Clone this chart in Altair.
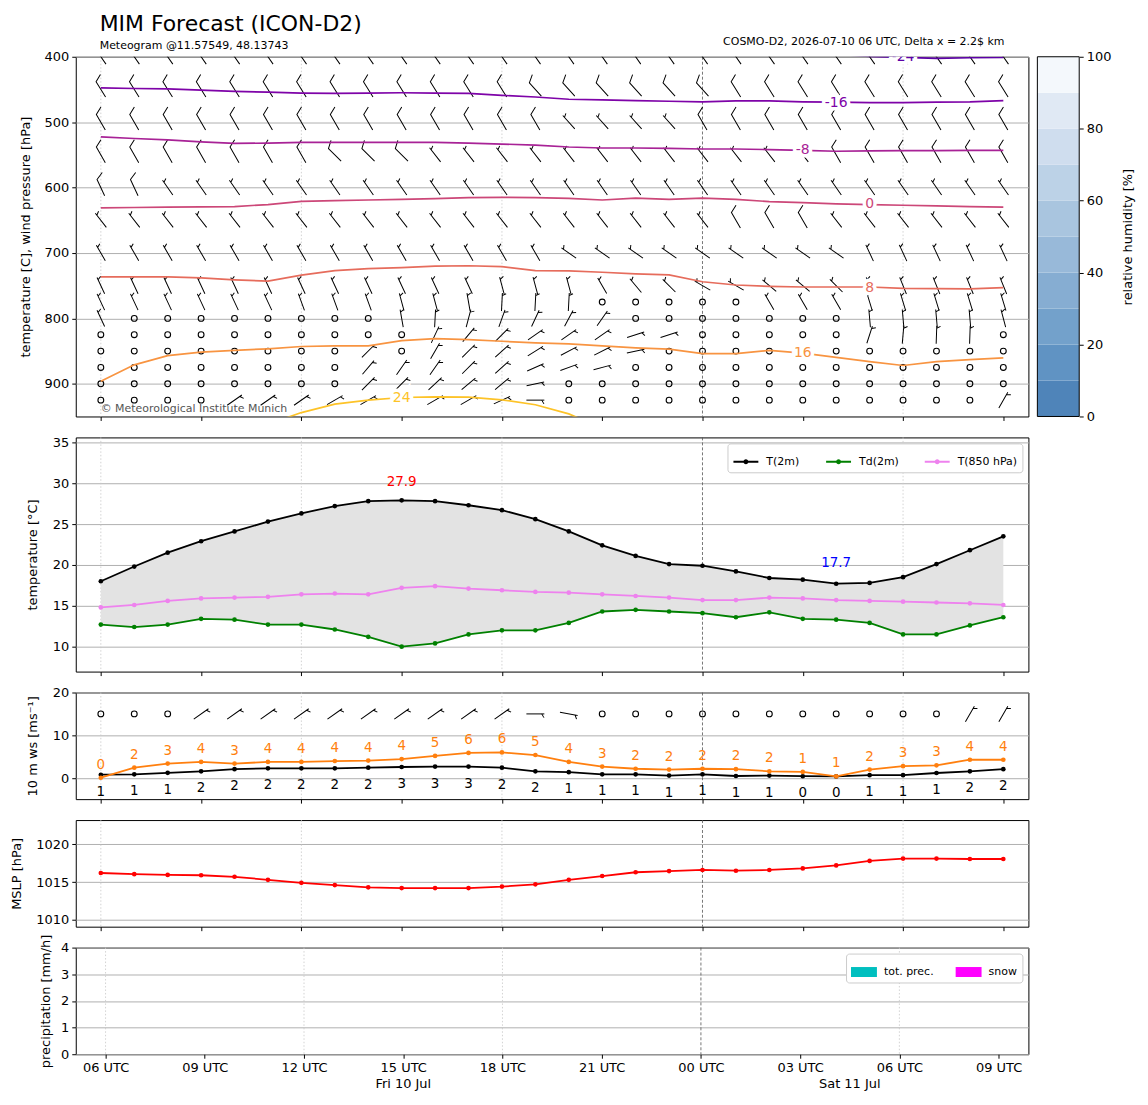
import altair as alt
import pandas as pd

FONT = "DejaVu Sans"

# ---------------- time axis ----------------
HOURS = list(range(28))
TICK_HOURS = [0, 3, 6, 9, 12, 15, 18, 21, 24, 27]
TICK_LABELS = ["06 UTC", "09 UTC", "12 UTC", "15 UTC", "18 UTC", "21 UTC",
               "00 UTC", "03 UTC", "06 UTC", "09 UTC"]
DAY_LABELS = ["Fri 10 Jul", "Sat 11 Jul"]
DAY_HOURS = [9, 22.5]
GRID_HOURS = [0, 6, 12, 24]
MIDNIGHT_HOURS = [18]

# ---------------- panel 1: upper air ----------------
LEVELS = [400, 450, 500, 550, 600, 650, 700, 750, 775, 800, 825, 850, 875, 900, 925]
BARB_CODES = [
    "FFFFFFF FFFFFFF FFFFFFF FFFFFFF",
    "FFFFFFF FFFFFFF FFFFFFF FFFFFFF",
    "FFFFFFF FFFFFFF HHHHFFF FFFFFFF",
    "FFFFFFF FFFHHHH HHHHHHH HFFFFFF",
    "FFHHHHH HHHHHHH HHHHHHH HHHHHHH",
    "HHHHHHH HHHHHHH HHHHHFF FHHHHHH",
    "HHHHHHH HHHHHHH HHHHHHH HHHHHHH",
    "HHHHHHH HHHHHHH HHHHHHH HHHHHHH",
    "HHHHHHH HHHHHHH HCCCCCH HHHHHHH",
    "HCCCCCC CCHHHHH HHCCCCC CCHHHHH",
    "CCCCCCC CCCHHHH HHHHCCC CCHHHHC",
    "CCCCCCC CHCHHHH HHHCCCC CCCCCCC",
    "CCCCCCC CHHHHHH HHCCCCC CCCCCCC",
    "CCCCCCC CHHHHHH CCCCCCC CCCCCCC",
    "CCCCHHH HHHHHHH CCCCCCC CCCCCCH",
]
BARB_ANGLES = [
    [325] * 7 + [325] * 7 + [325] * 7 + [325] * 7,
    [328] * 7 + [328, 328, 328, 328, 328, 328, 318] + [318, 318, 318, 318, 318, 328, 328] + [328] * 7,
    [330] * 7 + [330] * 7 + [318, 318, 318, 318, 330, 330, 330] + [330] * 7,
    [330] * 7 + [315, 315, 315, 322, 322, 322, 322] + [322] * 7 + [322, 330, 330, 330, 330, 330, 330],
    [335, 335, 325, 325, 325, 325, 325] + [325] * 7 + [325] * 7 + [325] * 7,
    [322] * 7 + [322] * 7 + [322, 322, 322, 322, 322, 330, 330] + [330, 322, 322, 322, 322, 322, 322],
    [330] * 7 + [330] * 7 + [305] * 7 + [305, 305, 335, 335, 335, 335, 335],
    [335] * 7 + [335, 335, 335, 335, 335, 345, 345] + [345, 330, 320, 315, 300, 300, 310] + [310, 315, 338, 338, 338, 338, 338],
    [335, 335, 335, 335, 335, 335, 340] + [340, 340, 345, 345, 350, 3, 3] + [3, 0, 0, 0, 0, 0, 330] + [330, 330, 343, 343, 343, 343, 343],
    [335, 0, 0, 0, 0, 0, 0] + [0, 0, 350, 3, 15, 20, 25] + [28, 35, 0, 0, 0, 0, 0] + [0, 0, 355, 355, 355, 355, 345],
    [0] * 7 + [0, 0, 0, 25, 40, 45, 55] + [55, 55, 72, 72, 0, 0, 0] + [0, 0, 18, 5, 2, 2, 0],
    [0] * 7 + [0, 45, 0, 30, 45, 48, 58] + [62, 63, 78, 0, 0, 0, 0] + [0] * 7,
    [0] * 7 + [0, 40, 35, 35, 45, 48, 66] + [70, 75, 0, 0, 0, 0, 0] + [0] * 7,
    [0] * 7 + [0, 45, 45, 47, 50, 50, 78] + [0] * 7 + [0] * 7,
    [0, 0, 0, 0, 55, 55, 55] + [60, 60, 60, 60, 60, 65, 90] + [0] * 7 + [0, 0, 0, 0, 0, 0, 30],
]

ISO_LEVELS = ["-24", "-16", "-8", "0", "8", "16", "24"]
ISO_COLORS = ["#5c01a6", "#7e03a8", "#a82296", "#cc4778", "#e66c5c", "#f89441", "#fdc328"]
ISO_P = [
    [None, None, None, None, None, None, None, None, None, None, None, None, None, None,
     None, None, None, None, None, None, None, None, 396, 399.5, 401, 402.5, 401.5, 401],
    [447.5, 448.5, 449, 451, 453, 454, 455.5, 456, 455.5, 455, 455.5, 456, 459, 461.5,
     465, 466, 467, 468, 469, 467.5, 467.5, 469, 469.5, 470, 470, 469.5, 469, 467],
    [522.5, 525, 527, 530, 532.5, 532, 531, 531, 531, 531, 531, 532, 533.5, 535,
     538, 539.5, 539.5, 540, 541, 541, 542, 543, 544.5, 544, 543.5, 543.5, 543, 543],
    [631, 630.5, 630, 629.5, 629, 626, 621, 620, 619, 618, 617, 615.5, 615, 615.5,
     616.5, 619, 616, 618, 616, 618, 621.5, 623, 625, 626, 627, 628, 629, 630],
    [736.5, 736.5, 736.5, 738, 741, 743, 734, 727, 724, 722.5, 720, 719.5, 721, 727,
     727.5, 729.5, 732, 733.5, 744, 749, 751, 752, 752, 752, 754, 754.5, 755, 753],
    [896, 871, 857, 851.5, 849, 846.5, 843, 842, 842, 834, 831, 832.5, 835, 837.5,
     839, 842, 845, 847, 854, 854, 849, 853, 859.5, 866, 872, 866, 863, 860.5],
    [None, None, None, None, None, 962, 944, 931, 925, 921, 920, 920.5, 924.5, 932,
     946, 968, None, None, None, None, None, None, None, None, None, None, None, None],
]
ISO_LABEL_HOURS = [24, 22, 21, 23, 23, 21, 9]
ISO_LABEL_P = [400, 470, 543, 625, 753, 853, 921]

RH_BOUNDS = [0, 10, 20, 30, 40, 50, 60, 70, 80, 90, 100]
RH_COLORS = ["#4f84b9", "#6093c3", "#73a1cb", "#86add2", "#98b9d9",
             "#a9c5df", "#bcd2e7", "#cfddee", "#e0e9f4", "#f4f8fc"]

# ---------------- panel 2: temperatures ----------------
T2M = [18.0, 19.8, 21.5, 22.9, 24.1, 25.3, 26.3, 27.2, 27.8, 27.9, 27.8, 27.3, 26.7, 25.6,
       24.1, 22.4, 21.1, 20.1, 19.9, 19.2, 18.4, 18.2, 17.7, 17.8, 18.5, 20.1, 21.8, 23.5]
TD2M = [12.7, 12.4, 12.7, 13.4, 13.3, 12.7, 12.7, 12.1, 11.2, 10.0, 10.4, 11.5, 12.0, 12.0,
        12.9, 14.3, 14.5, 14.3, 14.1, 13.6, 14.2, 13.4, 13.3, 12.9, 11.5, 11.5, 12.6, 13.6]
T850 = [14.8, 15.1, 15.6, 15.9, 16.0, 16.1, 16.4, 16.5, 16.4, 17.2, 17.4, 17.1, 16.9, 16.7,
        16.6, 16.4, 16.2, 16.0, 15.7, 15.7, 16.0, 15.9, 15.7, 15.6, 15.5, 15.4, 15.3, 15.1]
T_SERIES = ["T(2m)", "Td(2m)", "T(850 hPa)"]
T_COLORS = ["black", "green", "violet"]

# ---------------- panel 3: 10 m wind ----------------
WS10 = [0.8, 0.9, 1.25, 1.6, 2.1, 2.3, 2.3, 2.3, 2.45, 2.6, 2.7, 2.7, 2.45, 1.6,
        1.4, 0.9, 0.9, 0.6, 0.9, 0.5, 0.6, 0.45, 0.4, 0.7, 0.7, 1.2, 1.6, 2.1]
GUST10 = [0.1, 2.45, 3.4, 3.8, 3.4, 3.8, 3.8, 4.0, 4.1, 4.45, 5.2, 5.9, 6.0, 5.4,
          3.8, 2.7, 2.2, 2.0, 2.2, 2.1, 1.6, 1.45, 0.4, 2.0, 2.8, 3.0, 4.3, 4.3]
WS10_LABELS = ["1", "1", "1", "2", "2", "2", "2", "2", "2", "3", "3", "3", "2", "2",
               "1", "1", "1", "1", "1", "1", "1", "0", "0", "1", "1", "1", "2", "2"]
GUST10_LABELS = ["0", "2", "3", "4", "3", "4", "4", "4", "4", "4", "5", "6", "6", "5",
                 "4", "3", "2", "2", "2", "2", "2", "1", "1", "2", "3", "3", "4", "4"]
BARB10_LEVEL = 15
BARB10_CODES = "CCCHHHH HHHHHHH HCCCCCC CCCCCHH"
BARB10_ANGLES = [0, 0, 0, 55, 55, 55, 55] + [55, 55, 55, 55, 55, 55, 90] + [100, 0, 0, 0, 0, 0, 0] + [0, 0, 0, 0, 0, 30, 30]

# ---------------- panel 4: MSLP ----------------
MSLP = [1016.2, 1016.05, 1015.95, 1015.9, 1015.7, 1015.3, 1014.9, 1014.6, 1014.3, 1014.2,
        1014.2, 1014.2, 1014.4, 1014.7, 1015.3, 1015.8, 1016.3, 1016.45, 1016.6, 1016.5,
        1016.6, 1016.8, 1017.2, 1017.8, 1018.1, 1018.1, 1018.05, 1018.05]

# ---------------- panel 5: precipitation ----------------
PREC_SERIES = ["tot. prec.", "snow"]
PREC_COLORS = ["#00bfbf", "#ff00ff"]
PREC_VALUES = [0, 0]

TITLE = "MIM Forecast (ICON-D2)"
SUBTITLE = "Meteogram @11.57549, 48.13743"
RIGHT_HEADER = "COSMO-D2, 2026-07-10 06 UTC, Delta x = 2.2$ km"
COPYRIGHT = "© Meteorological Institute Munich"

# ---------------- glyphs ----------------
PATH_FULL = "M0,1L0,-1L0.85,-1.45"
PATH_HALF = "M0,1L0,-1M0,-0.72L0.42,-0.95"
LINE_DOT = "M-1,0H1M-0.12,0A0.12,0.12,0,1,1,0.12,0A0.12,0.12,0,1,1,-0.12,0"
PATCH = "M-1,-0.385H1V0.385H-1Z"

W = 956
H1, H2, H3, H4, H5 = 361, 235, 107, 107, 107
CB_X0, CB_X1 = W + 9, W + 51   # colour bar placed right of the upper panel

LABEL_EXPR = "[" + ",".join("'%s'" % s for s in TICK_LABELS) + "][round(datum.value/3)]"
XSCALE = alt.Scale(domain=[-0.75, 27.75], nice=False, zero=False)


def xenc(show=False):
    kw = dict(values=TICK_HOURS, ticks=True, tickSize=4, tickColor="black", grid=False,
              domain=False, labels=show)
    if show:
        kw.update(labelExpr=LABEL_EXPR, labelFontSize=13, labelPadding=3)
    return alt.X("t:Q", scale=XSCALE, axis=alt.Axis(**kw), title=None)


def yenc(field, domain, ticks, title, title_x, reverse=False):
    return alt.Y(field + ":Q",
                 scale=alt.Scale(domain=domain, nice=False, zero=False, reverse=reverse),
                 axis=alt.Axis(values=ticks, title=title, titleX=title_x, titleBaseline="middle",
                               grid=True, gridColor="#b0b0b0", gridWidth=1, tickSize=4,
                               labelPadding=3, domain=False, format="d"))


def vrules(show=False):
    g = alt.Chart(pd.DataFrame({"t": GRID_HOURS})).mark_rule(
        color="#c8c8c8", strokeDash=[1.5, 2], strokeWidth=0.8).encode(x=xenc(show))
    m = alt.Chart(pd.DataFrame({"t": MIDNIGHT_HOURS})).mark_rule(
        color="#555555", strokeDash=[3, 2], strokeWidth=0.8).encode(x=xenc(show))
    return [g, m]


def barb_layers(df, yy):
    out = []
    for code, path in (("F", PATH_FULL), ("H", PATH_HALF)):
        out.append(alt.Chart(df).transform_filter(alt.datum.code == code).mark_point(
            shape=path, size=324, filled=False, color="black", strokeWidth=1, opacity=1,
            clip=True).encode(x=xenc(), y=yy, angle=alt.Angle("ang:Q", scale=None)))
    out.append(alt.Chart(df).transform_filter(alt.datum.code == "C").mark_point(
        shape="circle", size=34, filled=False, color="black", strokeWidth=1.1, opacity=1,
        clip=True).encode(x=xenc(), y=yy))
    return out


# ---------------- panel 1 ----------------
rows = []
for lev, codes, angs in zip(LEVELS, BARB_CODES, BARB_ANGLES):
    for t, c, a in zip(HOURS, codes.replace(" ", ""), angs):
        rows.append({"t": t, "p": lev, "code": c, "ang": a})
barb_df = pd.DataFrame(rows)

iso_rows = []
for lev, ps in zip(ISO_LEVELS, ISO_P):
    for t, p in zip(HOURS, ps):
        if p is not None:
            iso_rows.append({"t": t, "p": p, "lev": lev})
iso_df = pd.DataFrame(iso_rows)
isolab_df = pd.DataFrame({"t": ISO_LABEL_HOURS, "p": ISO_LABEL_P, "lev": ISO_LEVELS})

Y1 = yenc("p", [400, 950], [400, 500, 600, 700, 800, 900],
          "temperature [C], wind pressure [hPa]", -50, reverse=True)
ISO_SCALE = alt.Scale(domain=ISO_LEVELS, range=ISO_COLORS)

iso_lines = alt.Chart(iso_df).mark_line(strokeWidth=1.7, clip=True).encode(
    x=xenc(), y=Y1, color=alt.Color("lev:N", scale=ISO_SCALE, legend=None),
    order=alt.Order("t:Q"))
iso_halo = alt.Chart(isolab_df).mark_text(
    fontSize=14, fill="white", stroke="white", strokeWidth=7, clip=True).encode(
    x=xenc(), y=Y1, text="lev:N")
iso_text = alt.Chart(isolab_df).mark_text(fontSize=14, clip=True).encode(
    x=xenc(), y=Y1, text="lev:N", color=alt.Color("lev:N", scale=ISO_SCALE, legend=None))
copy_text = alt.Chart(pd.DataFrame({"s": [COPYRIGHT]})).mark_text(
    align="left", baseline="middle", fontSize=11, color="#555555").encode(
    text="s:N", x=alt.value(25), y=alt.value(353))
right_text = alt.Chart(pd.DataFrame({"s": [RIGHT_HEADER]})).mark_text(
    align="right", baseline="alphabetic", fontSize=11, color="black").encode(
    text="s:N", x=alt.value(932), y=alt.value(-12))

main1 = alt.layer(*vrules(), *barb_layers(barb_df, Y1), iso_lines, iso_halo, iso_text,
                  copy_text, right_text)

rh_df = pd.DataFrame({"lo": RH_BOUNDS[:-1], "hi": RH_BOUNDS[1:], "c": RH_COLORS})
cb_rect = alt.Chart(rh_df).mark_rect().encode(
    x=alt.value(CB_X0), x2=alt.value(CB_X1),
    y=alt.Y("lo:Q", scale=alt.Scale(domain=[0, 100], nice=False),
            axis=alt.Axis(orient="right", offset=CB_X1 - W, values=[0, 20, 40, 60, 80, 100],
                          title="relative humidity [%]", titleAngle=270, titleX=48,
                          titleBaseline="middle", grid=False, tickSize=4, labelPadding=3,
                          domain=False)),
    y2="hi:Q", color=alt.Color("c:N", scale=None))
cb_frame = alt.Chart(pd.DataFrame({"lo": [0], "hi": [100]})).mark_rect(
    fillOpacity=0, stroke="black", strokeWidth=1).encode(
    x=alt.value(CB_X0), x2=alt.value(CB_X1), y=alt.Y("lo:Q"), y2="hi:Q")
cbar = alt.layer(cb_rect, cb_frame)

top = alt.layer(main1, cbar).resolve_scale(y="independent").properties(
    width=W, height=H1,
    title=alt.Title(TITLE, subtitle=SUBTITLE, anchor="start", frame="group", dx=24,
                    offset=-16, fontSize=22, fontWeight="normal", color="black",
                    subtitleFontSize=11, subtitleColor="black", subtitlePadding=4))

# ---------------- panel 2 ----------------
Y2 = yenc("v", [6.95, 35.6], [10, 15, 20, 25, 30, 35], "temperature [°C]", -43)
tl_rows = []
for name, vals in zip(T_SERIES, (T2M, TD2M, T850)):
    for t, v in zip(HOURS, vals):
        tl_rows.append({"t": t, "v": v, "series": name})
tl_df = pd.DataFrame(tl_rows)
band_df = pd.DataFrame({"t": HOURS, "v": T2M, "v2": TD2M})
band = alt.Chart(band_df).mark_area(color="#e3e3e3").encode(x=xenc(), y=Y2, y2="v2:Q")
tlines = alt.Chart(tl_df).mark_line(
    strokeWidth=1.8, point=alt.OverlayMarkDef(filled=True, size=22)).encode(
    x=xenc(), y=Y2,
    color=alt.Color("series:N", scale=alt.Scale(domain=T_SERIES, range=T_COLORS),
                    legend=alt.Legend(orient="top-right", direction="horizontal", title=None,
                                      fillColor="white", strokeColor="#cccccc", padding=5,
                                      cornerRadius=3, offset=6, labelFontSize=11,
                                      symbolType=LINE_DOT, symbolSize=625,
                                      symbolStrokeWidth=2, columnPadding=22, labelOffset=7)))
imax = T2M.index(max(T2M))
imin = T2M.index(min(T2M))
ext_df = pd.DataFrame({"t": [imax], "v": [T2M[imax]], "s": ["%.1f" % T2M[imax]]})
min_df = pd.DataFrame({"t": [imin], "v": [T2M[imin]], "s": ["%.1f" % T2M[imin]]})
max_txt = alt.Chart(ext_df).mark_text(color="red", fontSize=13.5, dy=-18).encode(
    x=xenc(), y=Y2, text="s:N")
min_txt = alt.Chart(min_df).mark_text(color="blue", fontSize=13.5, dy=-21).encode(
    x=xenc(), y=Y2, text="s:N")
p2 = alt.layer(*vrules(), band, tlines, max_txt, min_txt).properties(width=W, height=H2)

# ---------------- panel 3 ----------------
Y3 = yenc("v", [-4.9, 20], [0, 10, 20], "10 m ws [ms⁻¹]", -43)
b10 = pd.DataFrame({"t": HOURS, "v": [BARB10_LEVEL] * 28,
                    "code": list(BARB10_CODES.replace(" ", "")), "ang": BARB10_ANGLES})
ws_df = pd.DataFrame({"t": HOURS, "v": WS10, "s": WS10_LABELS})
gu_df = pd.DataFrame({"t": HOURS, "v": GUST10, "s": GUST10_LABELS})
ws_line = alt.Chart(ws_df).mark_line(color="black", strokeWidth=1.8,
                                     point=alt.OverlayMarkDef(filled=True, size=22, color="black")
                                     ).encode(x=xenc(), y=Y3)
gu_line = alt.Chart(gu_df).mark_line(color="#ff7f0e", strokeWidth=1.8,
                                     point=alt.OverlayMarkDef(filled=True, size=22, color="#ff7f0e")
                                     ).encode(x=xenc(), y=Y3)
ws_txt = alt.Chart(ws_df).mark_text(color="black", fontSize=13.5, dy=17).encode(
    x=xenc(), y=Y3, text="s:N")
gu_txt = alt.Chart(gu_df).mark_text(color="#ff7f0e", fontSize=13.5, dy=-13).encode(
    x=xenc(), y=Y3, text="s:N")
p3 = alt.layer(*vrules(), *barb_layers(b10, Y3), ws_line, gu_line, ws_txt, gu_txt).properties(
    width=W, height=H3)

# ---------------- panel 4 ----------------
Y4 = yenc("v", [1009.1, 1023.2], [1010, 1015, 1020], "MSLP [hPa]", -59)
ms_df = pd.DataFrame({"t": HOURS, "v": MSLP})
ms_line = alt.Chart(ms_df).mark_line(color="red", strokeWidth=1.8,
                                     point=alt.OverlayMarkDef(filled=True, size=22, color="red")
                                     ).encode(x=xenc(), y=Y4)
p4 = alt.layer(*vrules(), ms_line).properties(width=W, height=H4)

# ---------------- panel 5 ----------------
Y5 = yenc("v", [0, 4], [0, 1, 2, 3, 4], "precipitation [mm/h]", -30)
pr_df = pd.DataFrame({"t": [0, 0], "v": PREC_VALUES, "series": PREC_SERIES})
pr_bars = alt.Chart(pr_df).mark_bar().encode(
    x=xenc(True), y=Y5,
    color=alt.Color("series:N", scale=alt.Scale(domain=PREC_SERIES, range=PREC_COLORS),
                    legend=alt.Legend(orient="top-right", direction="horizontal", title=None,
                                      fillColor="white", strokeColor="#cccccc", padding=5,
                                      cornerRadius=3, offset=6, labelFontSize=11,
                                      symbolType=PATCH, symbolSize=676, columnPadding=22,
                                      labelOffset=7, symbolStrokeWidth=0)))
day_df = pd.DataFrame({"t": DAY_HOURS, "s": DAY_LABELS})
day_txt = alt.Chart(day_df).mark_text(fontSize=13, baseline="middle", color="black").encode(
    x=xenc(True), y=alt.value(137), text="s:N")
p5 = alt.layer(*vrules(True), pr_bars, day_txt).properties(width=W, height=H5)

chart = alt.vconcat(top, p2, p3, p4, p5, spacing=21, bounds="flush").resolve_scale(
    color="independent").properties(
    padding={"left": 2, "top": 2, "right": 5, "bottom": 5}
).configure(font=FONT).configure_view(stroke="black", strokeWidth=1).configure_axis(
    labelFontSize=13, titleFontSize=13, titleFontWeight="normal", labelColor="black",
    titleColor="black", tickColor="black", labelFont=FONT, titleFont=FONT
).configure_legend(labelFont=FONT, labelColor="black")

chart.save("out.html", embed_options={"renderer": "svg", "actions": False})
